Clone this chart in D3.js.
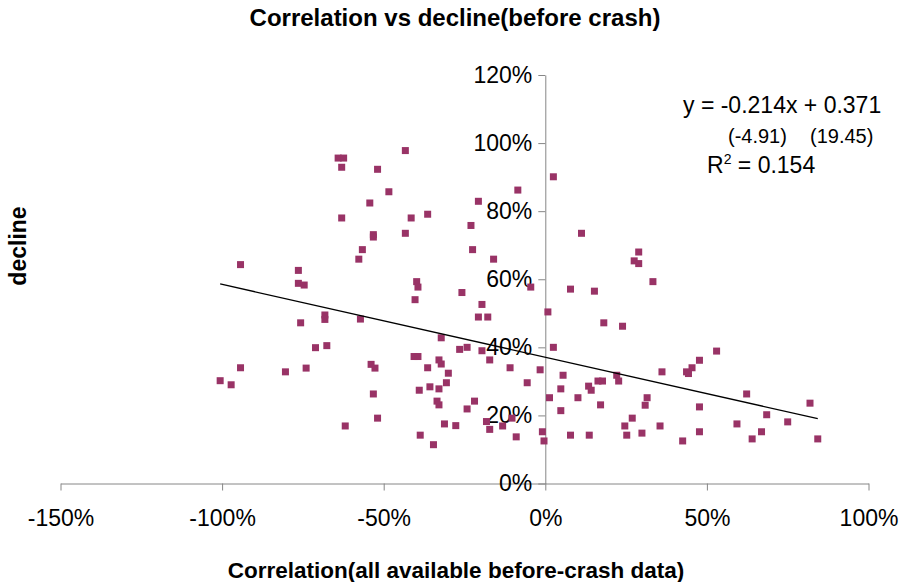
<!DOCTYPE html>
<html>
<head>
<meta charset="utf-8">
<script src="https://cdn.jsdelivr.net/npm/d3@7"></script>
<style>
  body { margin: 0; background: #fff; }
  text { font-family: "Liberation Sans", Arial, Helvetica, sans-serif; }
</style>
</head>
<body>
<script>
// correlation (x) and decline (y), as fractions
var corr = [
  -0.433, -0.641, -0.624, -0.630, -0.519, -0.484, -0.543, -0.630, -0.415, -0.532,
  -0.532, -0.433, -0.566, -0.577, -0.943, -0.764, -0.764, -0.746, -0.398, -0.394,
  -0.403, -0.757, -0.682, -0.682, -0.572, -0.711, -0.676, -0.943, -1.006, -0.972,
  -0.804, -0.740, -0.539, -0.527, -0.406, -0.394, -0.532, -0.390, -0.519, -0.619,
  -0.387, -0.364, -0.085, -0.207, -0.230, -0.225, -0.160, 0.025, 0.112, -0.258,
  -0.045, 0.078, 0.152, 0.275, 0.289, 0.289, 0.333, -0.196, -0.207, -0.178,
  0.008, 0.181, 0.239, -0.322, -0.265, -0.242, -0.196, -0.329, -0.322, -0.364,
  -0.300, -0.172, -0.109, 0.025, -0.016, 0.055, -0.056, -0.306, -0.357, -0.329,
  0.048, 0.134, 0.142, 0.163, 0.177, 0.221, 0.227, 0.013, 0.101, -0.335,
  -0.329, -0.219, -0.242, 0.048, 0.171, 0.269, 0.246, 0.252, -0.182, -0.172,
  -0.132, -0.103, -0.277, -0.312, -0.090, -0.009, -0.004, 0.078, 0.136, -0.346,
  0.530, 0.477, 0.454, 0.437, 0.443, 0.361, 0.315, 0.309, 0.477, 0.623,
  0.819, 0.685, 0.593, 0.750, 0.355, 0.299, 0.477, 0.669, 0.425, 0.640,
  0.843
];
var decline = [
  0.978, 0.956, 0.956, 0.929, 0.923, 0.857, 0.824, 0.780, 0.780, 0.731,
  0.724, 0.735, 0.687, 0.659, 0.643, 0.626, 0.588, 0.583, 0.593, 0.577,
  0.540, 0.472, 0.495, 0.482, 0.483, 0.399, 0.405, 0.340, 0.302, 0.290,
  0.328, 0.339, 0.350, 0.339, 0.373, 0.373, 0.263, 0.274, 0.192, 0.169,
  0.142, 0.791, 0.862, 0.829, 0.758, 0.687, 0.659, 0.901, 0.735, 0.561,
  0.577, 0.571, 0.565, 0.654, 0.646, 0.680, 0.593, 0.526, 0.489, 0.489,
  0.504, 0.472, 0.462, 0.428, 0.394, 0.400, 0.390, 0.363, 0.351, 0.340,
  0.324, 0.363, 0.340, 0.400, 0.334, 0.318, 0.296, 0.296, 0.284, 0.278,
  0.278, 0.286, 0.274, 0.301, 0.301, 0.318, 0.301, 0.252, 0.252, 0.242,
  0.231, 0.242, 0.219, 0.214, 0.231, 0.192, 0.169, 0.142, 0.182, 0.159,
  0.169, 0.192, 0.170, 0.175, 0.137, 0.152, 0.125, 0.142, 0.142, 0.114,
  0.389, 0.362, 0.340, 0.328, 0.323, 0.328, 0.252, 0.230, 0.225, 0.263,
  0.236, 0.202, 0.175, 0.181, 0.169, 0.148, 0.152, 0.152, 0.125, 0.131,
  0.131
];
var xTicks = [-1.5, -1, -0.5, 0, 0.5, 1];
var yTicks = [0, 0.2, 0.4, 0.6, 0.8, 1.0, 1.2];

// fitted line from the chart's label
var slope = -0.214, intercept = 0.371;

var data = corr.map(function(c, i) { return {x: c, y: decline[i]}; });

var width = 909, height = 582;
var svg = d3.select("body").append("svg")
    .attr("width", width)
    .attr("height", height);

svg.append("rect").attr("width", width).attr("height", height).attr("fill", "#fff");

var x = d3.scaleLinear().domain([-1.5, 1]).range([60.5, 868.5]);
var y = d3.scaleLinear().domain([0, 1.2]).range([483.5, 75]);

// plain hyphen for negatives, like the original
var pct = function(d) { return Math.round(d * 100) + "%"; };

// x axis along decline = 0
var gx = svg.append("g")
    .attr("transform", "translate(0," + y(0) + ")")
    .call(d3.axisBottom(x).tickValues(xTicks).tickFormat(pct).tickSize(7).tickSizeOuter(0).tickPadding(19));

// y axis at correlation = 0
var gy = svg.append("g")
    .attr("transform", "translate(" + x(0) + ",0)")
    .call(d3.axisLeft(y).tickValues(yTicks).tickFormat(pct).tickSize(7).tickSizeOuter(0).tickPadding(6));

[gx, gy].forEach(function(g) {
  g.select(".domain").attr("stroke", "#868686");
  g.selectAll(".tick line").attr("stroke", "#868686");
  g.selectAll(".tick text")
    .attr("fill", "#000")
    .style("font-size", "23px")
    .style("font-family", "'Liberation Sans', Arial, sans-serif");
});

// points
svg.append("g").selectAll("rect")
  .data(data)
  .enter().append("rect")
    .attr("x", function(d) { return x(d.x) - 3.5; })
    .attr("y", function(d) { return y(d.y) - 3.5; })
    .attr("width", 7)
    .attr("height", 7)
    .attr("fill", "#993366");

// trend line across the data range
var xExt = d3.extent(corr);
svg.append("line")
    .attr("x1", x(xExt[0]))
    .attr("y1", y(slope * xExt[0] + intercept))
    .attr("x2", x(xExt[1]))
    .attr("y2", y(slope * xExt[1] + intercept))
    .attr("stroke", "#000")
    .attr("stroke-width", 1.3);

// equation label
svg.append("text")
    .attr("x", 683).attr("y", 113)
    .style("font-size", "23px")
    .text("y = -0.214x + 0.371");
svg.append("text")
    .attr("x", 728).attr("y", 143)
    .style("font-size", "20px")
    .text("(-4.91)");
svg.append("text")
    .attr("x", 810).attr("y", 143)
    .style("font-size", "20px")
    .text("(19.45)");
var r2 = svg.append("text")
    .attr("x", 707).attr("y", 173)
    .style("font-size", "23px");
r2.append("tspan").text("R");
r2.append("tspan").attr("dy", -9).style("font-size", "14px").text("2");
r2.append("tspan").attr("dy", 9).text(" = 0.154");

// title
svg.append("text")
    .attr("x", 455).attr("y", 26)
    .attr("text-anchor", "middle")
    .style("font-size", "24px")
    .style("font-weight", "bold")
    .text("Correlation vs decline(before crash)");

// x-axis label
svg.append("text")
    .attr("x", 456).attr("y", 578)
    .attr("text-anchor", "middle")
    .style("font-size", "22.5px")
    .style("font-weight", "bold")
    .text("Correlation(all available before-crash data)");

// y-axis label
svg.append("text")
    .attr("transform", "translate(26,246) rotate(-90)")
    .attr("text-anchor", "middle")
    .style("font-size", "23px")
    .style("font-weight", "bold")
    .text("decline");
</script>
</body>
</html>
